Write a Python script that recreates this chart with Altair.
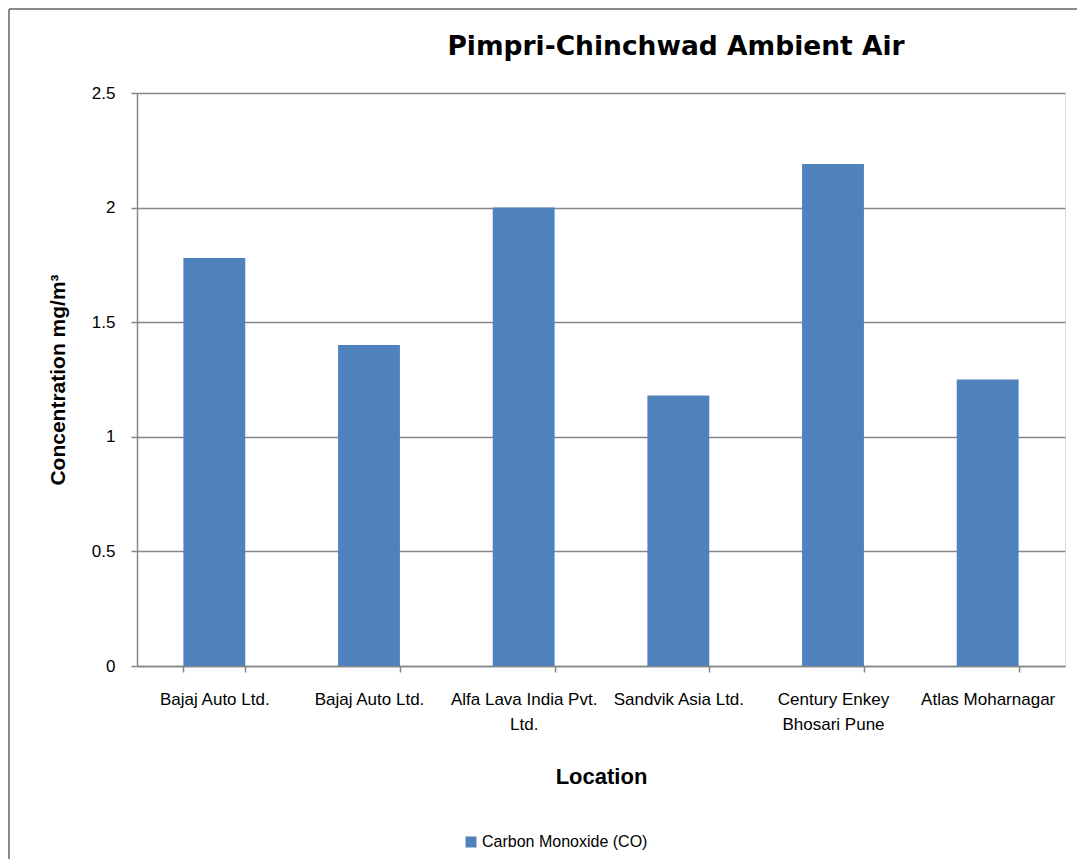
import json
import altair as alt
import pandas as pd

# ---- data ----
locations = [
    "Bajaj Auto Ltd.",
    "Bajaj Auto Ltd.",
    "Alfa Lava India Pvt. Ltd.",
    "Sandvik Asia Ltd.",
    "Century Enkey Bhosari Pune",
    "Atlas Moharnagar",
]
label_lines = [
    ["Bajaj Auto Ltd."],
    ["Bajaj Auto Ltd."],
    ["Alfa Lava India Pvt.", "Ltd."],
    ["Sandvik Asia Ltd."],
    ["Century Enkey", "Bhosari Pune"],
    ["Atlas Moharnagar"],
]
co_values = [1.78, 1.40, 2.00, 1.18, 2.19, 1.25]
series_name = "Carbon Monoxide (CO)"
y_ticks = [0, 0.5, 1, 1.5, 2, 2.5]

df = pd.DataFrame({
    "idx": list(range(len(locations))),
    "location": locations,
    "value": co_values,
    "series": [series_name] * len(locations),
})

FONT = "Liberation Sans"
GRAY = "#868686"
PLOT_W, PLOT_H = 928, 573
PAD = {"left": 129, "top": 85, "right": 12, "bottom": 193}

label_expr = json.dumps(label_lines) + "[datum.value]"

bars = alt.Chart(df).mark_bar(color="#4F81BD").encode(
    x=alt.X(
        "idx:O",
        scale=alt.Scale(paddingInner=0.6, paddingOuter=0.3),
        axis=alt.Axis(
            title="Location",
            labelExpr=label_expr,
            labelAngle=0,
            labelFont=FONT,
            labelFontSize=17,
            labelColor="black",
            labelPadding=19,
            labelBaseline="top",
            labelLineHeight=25,
            labelLimit=0,
            tickBand="extent",
            tickSize=6,
            tickColor=GRAY,
            tickWidth=1.5,
            domainColor=GRAY,
            domainWidth=1.5,
            grid=False,
            titleFont=FONT,
            titleFontSize=22,
            titleFontWeight="bold",
            titleColor="black",
            titleBaseline="alphabetic",
            titleY=117,
        ),
    ),
    y=alt.Y(
        "value:Q",
        scale=alt.Scale(domain=[0, 2.5], nice=False, zero=True),
        axis=alt.Axis(
            title="Concentration  mg/m³",
            values=y_ticks,
            format="~g",
            labelFont=FONT,
            labelFontSize=17,
            labelColor="black",
            labelPadding=16,
            tickSize=6,
            tickColor=GRAY,
            tickWidth=1.5,
            domainColor=GRAY,
            domainWidth=1.5,
            grid=True,
            gridColor=GRAY,
            gridWidth=1.5,
            titleFont=FONT,
            titleFontSize=21,
            titleFontWeight="bold",
            titleColor="black",
            titleAngle=270,
            titleBaseline="alphabetic",
            titleAlign="center",
            titleX=-73,
            titleY=PLOT_H / 2,
        ),
    ),
    color=alt.Color(
        "series:N",
        scale=alt.Scale(domain=[series_name], range=["#4F81BD"]),
        legend=alt.Legend(
            title=None,
            orient="none",
            legendX=326,
            legendY=741,
            symbolType="square",
            symbolSize=121,
            symbolStrokeWidth=0,
            labelFont=FONT,
            labelFontSize=16,
            labelColor="black",
            labelOffset=3,
            labelLimit=0,
        ),
    ),
)

frame_df = pd.DataFrame({"k": [0]})
frame_top = alt.Chart(frame_df).mark_rule(color="#8a8a8a", strokeWidth=2).encode(
    x=alt.value(-128), x2=alt.value(PLOT_W + PAD["right"]), y=alt.value(-84)
)
frame_left = alt.Chart(frame_df).mark_rule(color="#8a8a8a", strokeWidth=2).encode(
    x=alt.value(-128), y=alt.value(-84), y2=alt.value(PLOT_H + PAD["bottom"])
)

chart = alt.layer(frame_top, frame_left, bars).properties(
    width=PLOT_W,
    height=PLOT_H,
    autosize=alt.AutoSizeParams(type="none"),
    padding=PAD,
    title=alt.TitleParams(
        "Pimpri-Chinchwad Ambient Air",
        font="DejaVu Sans",
        fontWeight="bold",
        fontSize=26.5,
        color="black",
        anchor="middle",
        dx=75,
        baseline="alphabetic",
        offset=-73,
    ),
).configure_view(stroke=None).configure(background="white")

chart.save("out.html", embed_options={"renderer": "svg", "actions": False})
